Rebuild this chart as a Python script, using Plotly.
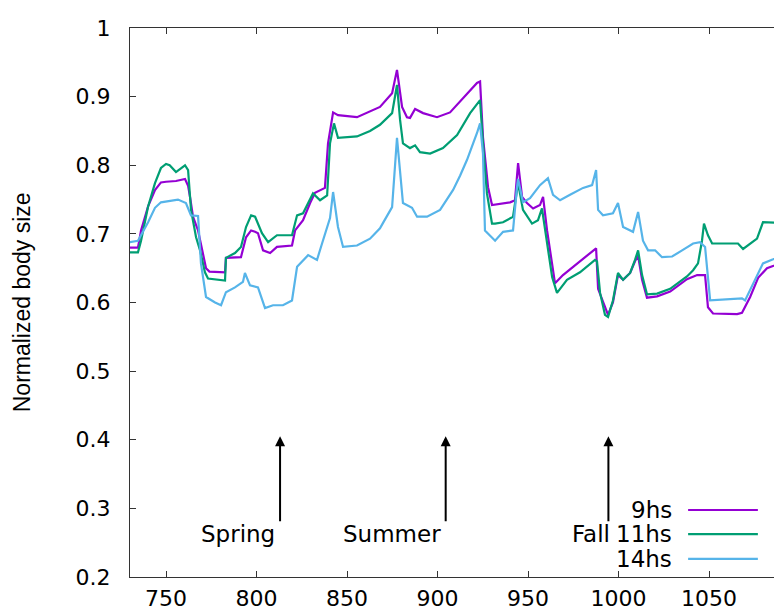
import plotly.graph_objects as go

# ---- data ----
x_9hs = [730, 734.5, 736.2, 740.1, 743.9, 747.2, 750, 755.5, 760.5, 762.2, 763.3, 764.9, 767.7, 770.4,
         772.1, 774, 782.6, 783.1, 791.4, 794.2, 797.0, 799.2, 800.8, 803.6, 807.5, 811.3, 819.6, 821.3,
         825.7, 829.6, 832.3, 837.8, 839.5, 842.3, 845.0, 855.5, 861.0, 868.2, 874.9, 877.6, 880.4, 883.1,
         884.8, 887.6, 892.0, 899.7, 906.9, 914.1, 921.8, 923.5, 925.1, 927.9, 930.1, 940.1, 942.8, 944.5,
         946.7, 949.4, 952.8, 956.6, 958.3, 960.5, 963.3, 964.9, 969.3, 977.1, 984.3, 987.6, 988.7, 991.4,
         994.2, 996.9, 999.7, 1002.5, 1006.4, 1009.1, 1010.8, 1013.0, 1015.7, 1021.3, 1028.5, 1037.8,
         1043.4, 1047.8, 1049.4, 1052.2, 1065.5, 1068.2, 1072.7, 1077.1, 1082.0, 1090.3]
y_9hs = [0.680, 0.680, 0.705, 0.740, 0.764, 0.775, 0.776, 0.777, 0.780, 0.770, 0.753, 0.725, 0.705, 0.672,
         0.650, 0.645, 0.644, 0.665, 0.666, 0.695, 0.705, 0.703, 0.701, 0.676, 0.672, 0.681, 0.683, 0.705,
         0.720, 0.745, 0.760, 0.767, 0.832, 0.877, 0.873, 0.870, 0.876, 0.885, 0.905, 0.939, 0.885, 0.870,
         0.869, 0.882, 0.876, 0.870, 0.877, 0.898, 0.920, 0.922, 0.841, 0.768, 0.742, 0.746, 0.749, 0.803,
         0.754, 0.745, 0.737, 0.742, 0.754, 0.705, 0.652, 0.628, 0.640, 0.657, 0.673, 0.679, 0.620, 0.600,
         0.582, 0.600, 0.640, 0.633, 0.643, 0.660, 0.668, 0.633, 0.607, 0.609, 0.616, 0.634,
         0.640, 0.640, 0.593, 0.584, 0.583, 0.585, 0.608, 0.636, 0.650, 0.658]

x_11hs = [730, 734.5, 736.2, 740.1, 743.9, 747.2, 750, 752, 755.5, 758, 760.5, 762.2, 763.8, 766.6, 768.8,
          771.5, 773.2, 782.6, 783.1, 788.1, 791.4, 794.2, 797.0, 799.2, 803.0, 806.4, 811.3, 819.6, 822.4,
          825.7, 831.2, 835.1, 839.0, 840.6, 842.8, 845.0, 855.5, 862.7, 868.2, 874.9, 877.6, 879.3, 880.9,
          884.8, 887.6, 890.3, 895.9, 903.0, 910.8, 918.0, 923.5, 925.1, 927.3, 930.1, 931.8, 936.2, 941.7,
          944.5, 947.2, 952.2, 955.5, 957.7, 959.4, 963.3, 966.0, 971.5, 978.7, 987.0, 988.1, 989.8, 992.5,
          994.2, 996.9, 999.7, 1002.5, 1006.4, 1009.1, 1010.8, 1013.0, 1015.7, 1021.3, 1028.5, 1037.8, 1041.2,
          1043.9, 1046.1, 1047.2, 1049.4, 1051.7, 1066.0, 1068.8, 1072.7, 1076.5, 1079.8, 1090.3]
y_11hs = [0.673, 0.673, 0.690, 0.740, 0.774, 0.796, 0.802, 0.800, 0.790, 0.795, 0.800, 0.793, 0.735, 0.695,
          0.676, 0.644, 0.635, 0.632, 0.665, 0.672, 0.681, 0.710, 0.727, 0.725, 0.701, 0.688, 0.698, 0.698,
          0.727, 0.730, 0.759, 0.749, 0.756, 0.832, 0.861, 0.840, 0.842, 0.850, 0.859, 0.876, 0.917, 0.866,
          0.832, 0.825, 0.829, 0.819, 0.817, 0.825, 0.844, 0.876, 0.895, 0.832, 0.759, 0.715, 0.715, 0.717,
          0.725, 0.774, 0.735, 0.715, 0.720, 0.737, 0.705, 0.637, 0.614, 0.633, 0.644, 0.662, 0.660, 0.614,
          0.582, 0.579, 0.603, 0.643, 0.633, 0.643, 0.662, 0.676, 0.640, 0.612, 0.613, 0.620, 0.638, 0.647,
          0.657, 0.690, 0.715, 0.698, 0.686, 0.686, 0.678, 0.686, 0.693, 0.717, 0.716]

x_14hs = [730, 734.5, 740.1, 743.9, 747.2, 756.6, 761.0, 763.8, 767.7, 769.3, 772.1, 777.1, 780.4, 783.1,
          788.1, 792.5, 793.6, 796.4, 800.8, 804.7, 809.1, 814.6, 819.6, 822.4, 828.5, 833.4, 836.2, 840.6,
          842.3, 845.0, 847.8, 855.5, 862.7, 868.2, 869.9, 874.9, 877.6, 879.3, 880.9, 885.9, 888.7, 894.2,
          901.4, 908.6, 912.5, 916.3, 919.5, 921.8, 923.5, 925.1, 926.2, 930.1, 931.8, 936.2, 941.7, 943.9,
          944.5, 947.2, 951.1, 956.6, 961.0, 963.8, 967.7, 973.2, 980.4, 985.4, 987.6, 988.7, 991.4, 996.9,
          999.7, 1002.5, 1008.0, 1010.8, 1013.5, 1016.3, 1020.2, 1024.0, 1029.6, 1035.1, 1041.2, 1045.0,
          1047.8, 1050.6, 1065.5, 1068.2, 1069.9, 1074.3, 1079.8, 1085.4, 1090.3]
y_14hs = [0.688, 0.690, 0.717, 0.738, 0.746, 0.750, 0.745, 0.727, 0.726, 0.657, 0.608, 0.600, 0.596, 0.615,
          0.622, 0.630, 0.643, 0.625, 0.622, 0.592, 0.596, 0.596, 0.603, 0.652, 0.669, 0.662, 0.686, 0.723,
          0.761, 0.710, 0.681, 0.683, 0.693, 0.708, 0.716, 0.739, 0.840, 0.788, 0.745, 0.738, 0.725, 0.725,
          0.735, 0.764, 0.785, 0.808, 0.830, 0.847, 0.861, 0.817, 0.705, 0.694, 0.690, 0.703, 0.705, 0.768,
          0.780, 0.746, 0.752, 0.771, 0.781, 0.757, 0.749, 0.757, 0.767, 0.771, 0.793, 0.735, 0.727, 0.730,
          0.745, 0.710, 0.703, 0.732, 0.690, 0.676, 0.676, 0.666, 0.667, 0.676, 0.686, 0.688,
          0.681, 0.603, 0.605, 0.606, 0.603, 0.628, 0.657, 0.663, 0.669]

series_names = ["9hs", "11hs", "14hs"]
series_colors = ["#9400D3", "#009E73", "#56B4E9"]

season_labels = ["Spring", "Summer", "Fall"]
season_x = [813.0, 904.5, 994.4]
arrow_tail_y = 0.279
arrow_head_y = 0.405

x_ticks = [750, 800, 850, 900, 950, 1000, 1050]
y_ticks = [0.2, 0.3, 0.4, 0.5, 0.6, 0.7, 0.8, 0.9, 1]
y_tick_text = ["0.2", "0.3", "0.4", "0.5", "0.6", "0.7", "0.8", "0.9", "1"]

FONT = "DejaVu Sans"
TXT = 23

fig = go.Figure()
for xs, ys, name, col in zip([x_9hs, x_11hs, x_14hs], [y_9hs, y_11hs, y_14hs], series_names, series_colors):
    fig.add_trace(go.Scatter(x=xs, y=ys, mode="lines", name=name,
                             line=dict(color=col, width=2.2), showlegend=False))

annotations = []
shapes = []
# season arrows
for sx in season_x:
    annotations.append(dict(x=sx, y=arrow_head_y, ax=sx, ay=arrow_tail_y, xref="x", yref="y",
                            axref="x", ayref="y", text="", showarrow=True, arrowhead=2,
                            arrowsize=1, arrowwidth=2, arrowcolor="black"))
# season labels
annotations.append(dict(x=season_x[0] - 1.5, y=0.263, xref="x", yref="y", text=season_labels[0],
                        showarrow=False, xanchor="right", yanchor="middle",
                        font=dict(family=FONT, size=TXT, color="black")))
annotations.append(dict(x=season_x[1] - 1.5, y=0.263, xref="x", yref="y", text=season_labels[1],
                        showarrow=False, xanchor="right", yanchor="middle",
                        font=dict(family=FONT, size=TXT, color="black")))
annotations.append(dict(x=973.0, y=0.263, xref="x", yref="y", text=season_labels[2],
                        showarrow=False, xanchor="left", yanchor="middle",
                        font=dict(family=FONT, size=TXT, color="black")))

# gnuplot-style legend (text right-aligned, sample line to its right)
leg_y = [0.122, 0.078, 0.033]
for name, col, ly in zip(series_names, series_colors, leg_y):
    annotations.append(dict(x=0.834, y=ly, xref="paper", yref="paper", text=name, showarrow=False,
                            xanchor="right", yanchor="middle",
                            font=dict(family=FONT, size=TXT, color="black")))
    shapes.append(dict(type="line", xref="paper", yref="paper", x0=0.856, x1=0.963, y0=ly, y1=ly,
                       line=dict(color=col, width=2.2)))

# y axis title
annotations.append(dict(x=-0.166, y=0.5, xref="paper", yref="paper", text="Normalized body size",
                        textangle=-90, showarrow=False, xanchor="center", yanchor="middle",
                        font=dict(family="Liberation Sans", size=23, color="black")))

# page body has an 8px margin: size the figure so it fits the 782x610 window exactly
fig.update_layout(
    width=774, height=602,
    margin=dict(l=122, r=0, t=20, b=33),
    paper_bgcolor="white", plot_bgcolor="white",
    annotations=annotations, shapes=shapes,
    xaxis=dict(range=[730.1, 1090.3], tickvals=x_ticks, ticks="inside", ticklen=6, tickwidth=1,
               tickcolor="#333", showline=True, linecolor="#333", linewidth=1, mirror="ticks",
               showgrid=False, zeroline=False, tickfont=dict(family=FONT, size=22, color="black"),
               ticklabelstandoff=2),
    yaxis=dict(range=[0.2, 1.0], tickvals=y_ticks, ticktext=y_tick_text, ticks="inside", ticklen=6,
               tickwidth=1, tickcolor="#333", showline=True, linecolor="#333", linewidth=1,
               showgrid=False, zeroline=False, tickfont=dict(family=FONT, size=22, color="black"),
               ticklabelstandoff=14),
)

fig.write_html("out.html")
